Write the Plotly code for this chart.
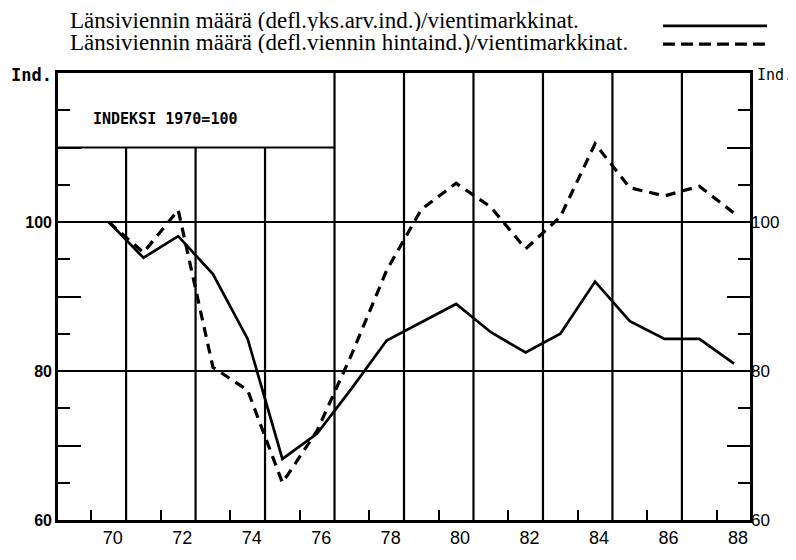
import plotly.graph_objects as go

# ---- data ----
years = [70, 71, 72, 73, 74, 75, 76, 77, 78, 79, 80, 81, 82, 83, 84, 85, 86, 87, 88]
solid_vals = [100, 95.2, 98.1, 93.0, 84.3, 68.2, 71.6, 77.7, 84.1, 86.6, 89.0,
              85.2, 82.5, 85.0, 92.0, 86.7, 84.3, 84.3, 81.0]
dashed_vals = [100, 95.9, 101.6, 80.5, 77.4, 65.0, 72.0, 82.3, 93.5, 101.7, 105.2,
               102.0, 96.4, 100.7, 110.5, 104.6, 103.5, 104.8, 101.2]

x_label_vals = [70, 72, 74, 76, 78, 80, 82, 84, 86, 88]
x_label_text = ["70", "72", "74", "76", "78", "80", "82", "84", "86", "88"]
x_minor_ticks = [69.5, 71.5, 73.5, 75.5, 77.5, 79.5, 81.5, 83.5, 85.5, 87.5]
y_major_vals = [60, 70, 80, 90, 100, 110, 120]
y_major_text = ["60", "", "80", "", "100", "", ""]
y_minor_vals = [65, 75, 85, 95, 105, 115]
grid_low = [70.5, 72.5, 74.5]          # gridlines stopping under the title box
grid_full = [76.5, 78.5, 80.5, 82.5, 84.5, 86.5]
h_grid = [80, 100]

legend_solid = "Länsiviennin määrä (defl.yks.arv.ind.)/vientimarkkinat."
legend_dashed = "Länsiviennin määrä (defl.viennin hintaind.)/vientimarkkinat."
box_text = "INDEKSI 1970=100"

X_RANGE = [68.54, 88.46]
Y_RANGE = [60, 120]

# page body has an 8px margin: build the figure 8px smaller and shift coordinates
OFF = 8
W, H = 796 - OFF, 560 - OFF
ML, MT = 58 - OFF, 73 - OFF
MR = W - (750 - OFF)
MB = H - (537 - OFF)
PW, PH = W - ML - MR, H - MT - MB


def px(x):
    """page pixel x -> paper fraction"""
    return (x - OFF - ML) / PW


def py(y):
    """page pixel y -> paper fraction"""
    return (H - MB - (y - OFF)) / PH


fig = go.Figure()
fig.add_trace(go.Scatter(x=years, y=solid_vals, mode="lines",
                         line=dict(color="black", width=2.7), name=legend_solid,
                         hoverinfo="skip"))
fig.add_trace(go.Scatter(x=years, y=dashed_vals, mode="lines",
                         line=dict(color="black", width=3.2, dash="10px,7px"),
                         name=legend_dashed, hoverinfo="skip"))
# empty trace so that the right-hand axis is drawn
fig.add_trace(go.Scatter(x=[None], y=[None], yaxis="y2", mode="lines",
                         showlegend=False, hoverinfo="skip"))

shapes = []
for gx in grid_low:
    shapes.append(dict(type="line", xref="x", yref="y", x0=gx, x1=gx, y0=60, y1=110,
                       line=dict(color="black", width=2.2)))
for gx in grid_full:
    shapes.append(dict(type="line", xref="x", yref="y", x0=gx, x1=gx, y0=60, y1=120,
                       line=dict(color="black", width=2.2)))
for gy in h_grid:
    shapes.append(dict(type="line", xref="x domain", yref="y", x0=0, x1=1, y0=gy, y1=gy,
                       line=dict(color="black", width=2.2)))
shapes.append(dict(type="line", xref="x", yref="y", x0=X_RANGE[0], x1=76.5, y0=110, y1=110,
                   line=dict(color="black", width=2.2)))
# legend samples
shapes.append(dict(type="line", xref="paper", yref="paper", x0=px(663), x1=px(767),
                   y0=py(24), y1=py(24), line=dict(color="black", width=2.7)))
shapes.append(dict(type="line", xref="paper", yref="paper", x0=px(663), x1=px(767),
                   y0=py(43), y1=py(43), line=dict(color="black", width=3.2, dash="12px,6px")))

annotations = [
    dict(text=legend_solid, xref="paper", yref="paper", x=px(68), y=py(18),
         xanchor="left", yanchor="middle", showarrow=False, height=22,
         font=dict(family="Liberation Serif", size=23, color="black")),
    dict(text=legend_dashed, xref="paper", yref="paper", x=px(68), y=py(41),
         xanchor="left", yanchor="middle", showarrow=False, height=22,
         font=dict(family="Liberation Serif", size=23, color="black")),
    dict(text="Ind.", xref="paper", yref="paper", x=px(8.5), y=py(75),
         xanchor="left", yanchor="middle", showarrow=False,
         font=dict(family="DejaVu Sans Mono", size=17, color="black", weight="bold")),
    dict(text="Ind.", xref="paper", yref="paper", x=px(795), y=py(75),
         xanchor="right", yanchor="middle", showarrow=False,
         font=dict(family="DejaVu Sans Mono", size=15, color="black")),
    dict(text=box_text, xref="x", yref="y", x=71.62, y=113.8,
         xanchor="center", yanchor="middle", showarrow=False,
         font=dict(family="DejaVu Sans Mono", size=15, color="black", weight="bold")),
]

fig.update_layout(
    width=W, height=H,
    margin=dict(l=ML, r=MR, t=MT, b=MB, pad=0),
    paper_bgcolor="white", plot_bgcolor="white",
    showlegend=False,
    shapes=shapes,
    annotations=annotations,
    xaxis=dict(range=X_RANGE, tickmode="array", tickvals=x_label_vals, ticktext=x_label_text,
               ticks="", showgrid=False, zeroline=False,
               showline=True, linecolor="black", linewidth=2.7, mirror=True,
               tickfont=dict(family="Liberation Sans", size=18, color="black"),
               ticklabelshift=4,
               minor=dict(tickmode="array", tickvals=x_minor_ticks, ticks="inside",
                          ticklen=10, tickwidth=2, tickcolor="black", showgrid=False)),
    yaxis=dict(range=Y_RANGE, tickmode="array", tickvals=y_major_vals, ticktext=y_major_text,
               ticks="inside", ticklen=23, tickwidth=2, tickcolor="black",
               showgrid=False, zeroline=False,
               showline=True, linecolor="black", linewidth=2.7, mirror=True,
               tickfont=dict(family="Liberation Sans", size=16, color="black", weight="bold"),
               minor=dict(tickmode="array", tickvals=y_minor_vals, ticks="inside",
                          ticklen=12, tickwidth=2, tickcolor="black", showgrid=False)),
    yaxis2=dict(range=Y_RANGE, overlaying="y", side="right", anchor="x",
                tickmode="array", tickvals=y_major_vals, ticktext=y_major_text,
                ticks="inside", ticklen=23, tickwidth=2, tickcolor="black",
                showgrid=False, zeroline=False, showline=False,
                tickfont=dict(family="Liberation Sans", size=17, color="black"),
                minor=dict(tickmode="array", tickvals=y_minor_vals, ticks="inside",
                           ticklen=12, tickwidth=2, tickcolor="black", showgrid=False)),
)

fig.write_html("out.html")
